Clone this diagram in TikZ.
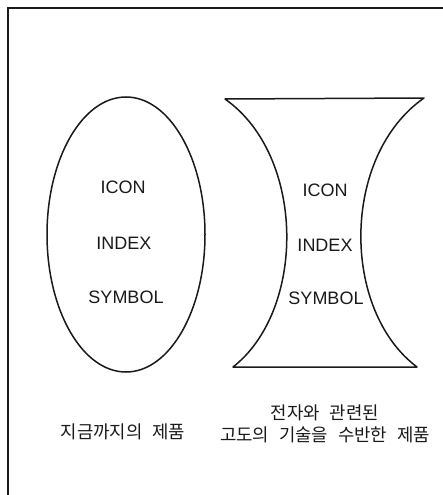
\documentclass[tikz,border=0pt]{standalone}
\usepackage{fontspec}
\setmainfont{Liberation Sans}
\newfontfamily\kofont{Noto Sans CJK KR}
\usepackage{xcolor}
\definecolor{diagInk}{HTML}{1A1A1A}
\definecolor{diagWhite}{HTML}{FFFFFF}
\usetikzlibrary{shapes.geometric,positioning}
\newcommand\kowide{\kofont\fontsize{17.8}{22}\selectfont\spaceskip 9.8pt\relax}

\begin{document}
\begin{tikzpicture}[
  x=1pt, y=-1pt,
  outline/.style={draw=diagInk, line width=1.5pt},
  frame/.style={draw=diagInk, line width=2pt},
  term/.style={font=\fontsize{18}{20}\selectfont, text=diagInk, inner sep=0pt},
  caption/.style={font=\kowide, text=diagInk, align=center, inner sep=0pt}
]
\useasboundingbox[fill=diagWhite] (0,0) rectangle (443,495);

% Page frame (cut off at right and bottom)
\draw[frame] (8,495) -- (8,8.5) -- (443,8.5);

% Left: ellipse of ordinary products
\node[outline, ellipse, minimum width=158pt, minimum height=275pt, inner sep=0pt] (oldprod) at (126,234.5) {};
\node[term] (oldicon) at (123,187) {ICON};
\node[term] (oldindex) at (124,243) {INDEX};
\node[term] (oldsymbol) at (126,297) {SYMBOL};
\node[caption] (oldcap) at (123,432) {지금까지의 제품};

% Right: hourglass of high-tech products
\coordinate (tl) at (225,99);
\coordinate (tr) at (424,98);
\coordinate (br) at (417,367);
\coordinate (bl) at (233,367);
\draw[outline, line join=round] (tl) -- (tr)
  .. controls (341,156) and (341,310) .. (br) -- (bl)
  .. controls (306,310) and (306,156) .. (tl) -- cycle;
\node[term] (newicon) at (325,190) {ICON};
\node[term] (newindex) at (325,245) {INDEX};
\node[term] (newsymbol) at (326,298) {SYMBOL};
\node[caption] (newcap) at (325,424) {전자와 관련된\\고도의 기술을 수반한 제품};

\end{tikzpicture}
\end{document}
